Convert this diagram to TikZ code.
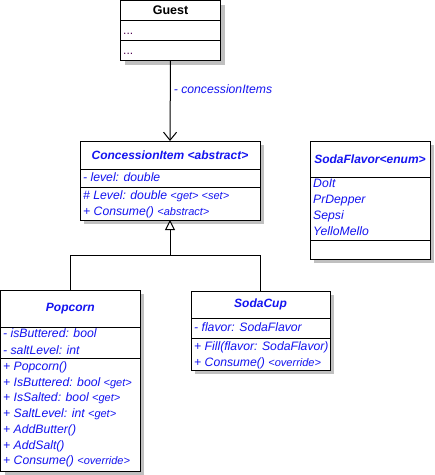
\documentclass[tikz,border=0pt]{standalone}
\usepackage{fontspec}
\setmainfont{Liberation Sans}
\usetikzlibrary{arrows.meta,backgrounds}
\definecolor{UmlBlue}{HTML}{1414F0}
\definecolor{DotText}{HTML}{500050}
\definecolor{Shade}{HTML}{C0C0C0}
\newcommand{\stereo}[1]{{\fontsize{11}{12}\selectfont #1}}
\tikzset{
  part/.style={draw=black, line width=1pt, fill=white, anchor=north west, outer sep=0pt, inner sep=0pt},
  title/.style={font=\fontsize{12}{14}\selectfont\bfseries\itshape, text=UmlBlue},
  member/.style={anchor=west, inner sep=0pt, text height=8pt, text depth=2pt, font=\fontsize{12.2}{14}\selectfont\itshape, text=UmlBlue},
  shade/.style={fill=Shade},
  assoc/.style={-{Straight Barb[length=8pt,width=13pt]}, line width=1pt},
  inherit/.style={line width=1pt},
  gen/.style={-{Triangle[open,length=10pt,width=10pt,fill=white]}, line width=1pt}
}
\begin{document}
\begin{tikzpicture}[x=1pt,y=-1pt]
\useasboundingbox (0,0) rectangle (435,475);
% Guest
\node[part,minimum width=100pt,minimum height=20pt,font=\fontsize{12.5}{14}\selectfont\bfseries] (guest-hdr) at (120.5,0.5) {Guest};
\node[part,minimum width=100pt,minimum height=20pt] (guest-att) at (guest-hdr.south west) {};
\node[part,minimum width=100pt,minimum height=20pt] (guest-ops) at (guest-att.south west) {};
\foreach \y/\n in {31.5/a,51.5/o}{\node[member,text=DotText,font=\fontsize{12}{14}\selectfont] (guest-\n) at (123,\y) {...};}
% ConcessionItem
\node[part,title,minimum width=180pt,minimum height=28pt] (ci-hdr) at (80,141) {ConcessionItem <abstract>};
\node[part,minimum width=180pt,minimum height=18pt] (ci-att) at (ci-hdr.south west) {};
\node[part,minimum width=180pt,minimum height=33pt] (ci-ops) at (ci-att.south west) {};
\node[member] (ci-a1) at (83,178) {- level: double};
\foreach \t [count=\i, evaluate=\i as \y using 196+16*(\i-1)] in {\# Level: double \stereo{<get> <set>},+ Consume() \stereo{<abstract>}}
  {\node[member] (ci-o\i) at (83,\y) {\t};}
% SodaFlavor
\node[part,title,minimum width=120pt,minimum height=36pt] (flav-hdr) at (310,141) {SodaFlavor<enum>};
\node[part,minimum width=120pt,minimum height=63pt] (flav-att) at (flav-hdr.south west) {};
\node[part,minimum width=120pt,minimum height=19pt] (flav-ops) at (flav-att.south west) {};
\foreach \t [count=\i, evaluate=\i as \y using 184+16.3*(\i-1)] in {DoIt,PrDepper,Sepsi,YelloMello}
  {\node[member] (flav-a\i) at (313,\y) {\t};}
% Popcorn
\node[part,title,minimum width=139.5pt,minimum height=37pt] (pop-hdr) at (0.5,290) {Popcorn};
\node[part,minimum width=139.5pt,minimum height=31pt] (pop-att) at (pop-hdr.south west) {};
\node[part,minimum width=139.5pt,minimum height=113pt] (pop-ops) at (pop-att.south west) {};
\foreach \t [count=\i, evaluate=\i as \y using 334+17*(\i-1)] in {- isButtered: bool,- saltLevel: int}
  {\node[member] (pop-a\i) at (3,\y) {\t};}
\foreach \t [count=\i, evaluate=\i as \y using 367.5+15.7*(\i-1)] in {+ Popcorn(),+ IsButtered: bool \stereo{<get>},+ IsSalted: bool \stereo{<get>},+ SaltLevel: int \stereo{<get>},+ AddButter(),+ AddSalt(),+ Consume() \stereo{<override>}}
  {\node[member] (pop-o\i) at (3,\y) {\t};}
% SodaCup
\node[part,title,minimum width=139pt,minimum height=27pt] (cup-hdr) at (191,291) {SodaCup};
\node[part,minimum width=139pt,minimum height=20pt] (cup-att) at (cup-hdr.south west) {};
\node[part,minimum width=139pt,minimum height=32pt] (cup-ops) at (cup-att.south west) {};
\node[member] (cup-a1) at (194,328) {- flavor: SodaFlavor};
\foreach \t [count=\i, evaluate=\i as \y using 347+16*(\i-1)] in {+ Fill(flavor: SodaFlavor),+ Consume() \stereo{<override>}}
  {\node[member] (cup-o\i) at (194,\y) {\t};}
% shadows
\begin{scope}[on background layer]
\foreach \c in {guest,ci,flav,pop,cup}
  {\fill[shade] ([shift={(4,4)}]\c-hdr.north west) rectangle ([shift={(4,4)}]\c-ops.south east);}
\end{scope}
% connectors
\draw[assoc] (guest-ops.south) -- node[pos=0.37,right,member,anchor=west,xshift=3pt] (assoc-lbl) {- concessionItems} (ci-hdr.north);
\coordinate (fork) at (170,255);
\draw[inherit] (pop-hdr.north) |- (fork);
\draw[inherit] (cup-hdr.north) |- (fork);
\draw[gen] (fork) -- (ci-ops.south);
\end{tikzpicture}
\end{document}
